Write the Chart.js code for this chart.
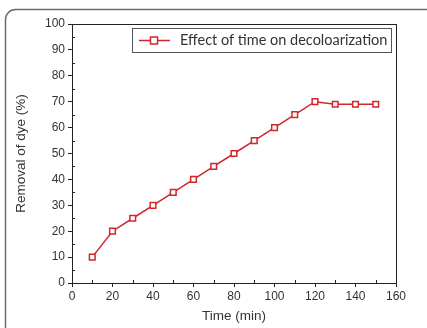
<!DOCTYPE html>
<html>
<head>
<meta charset="utf-8">
<script src="https://cdn.jsdelivr.net/npm/chart.js@4.4.1/dist/chart.umd.min.js"></script>
<style>
  html, body { margin: 0; padding: 0; background: #fff; }
  #wrap { width: 427px; height: 328px; }
</style>
</head>
<body>
<div id="wrap"><canvas id="mainChart" width="427" height="328"></canvas></div>
<script>
// time (min) and removal of dye (%)
const timeMin = [10, 20, 30, 40, 50, 60, 70, 80, 90, 100, 110, 120, 130, 140, 150];
const removal = [10, 20, 25, 30, 35, 40, 45, 50, 55, 60, 65, 70, 69, 69, 69];
const seriesLabel = "Effect of time on decoloarization";
const xTitle = "Time (min)";
const yTitle = "Removal of dye (%)";

const red = "#d0262c";
const tickFont = { family: "Liberation Sans, Arial, sans-serif", size: 12 };
const titleFont = { family: "Liberation Sans, Arial, sans-serif", size: 13.5 };

// rounded frame around the figure
const framePlugin = {
  id: "frame",
  beforeDraw(chart) {
    const ctx = chart.ctx;
    ctx.save();
    ctx.strokeStyle = "#6b6b6b";
    ctx.lineWidth = 1.5;
    ctx.beginPath();
    ctx.roundRect(5.5, 9.5, 460, 360, 10);
    ctx.stroke();
    ctx.restore();
  },
};

// box around plot area plus minor ticks
const boxPlugin = {
  id: "plotBox",
  afterDraw(chart) {
    const ctx = chart.ctx;
    const a = chart.chartArea;
    const xs = chart.scales.x;
    const ys = chart.scales.y;
    ctx.save();
    ctx.strokeStyle = "#222";
    ctx.lineWidth = 1;
    ctx.strokeRect(a.left + 0.5, a.top + 0.5, a.right - a.left, a.bottom - a.top);
    ctx.beginPath();
    for (let v = 10; v < 160; v += 20) {
      const px = Math.round(xs.getPixelForValue(v)) + 0.5;
      ctx.moveTo(px, a.bottom);
      ctx.lineTo(px, a.bottom - 3);
    }
    for (let v = 5; v < 100; v += 10) {
      const py = Math.round(ys.getPixelForValue(v)) + 0.5;
      ctx.moveTo(a.left, py);
      ctx.lineTo(a.left + 3, py);
    }
    ctx.stroke();
    ctx.restore();
  },
};

// legend drawn inside the plot with a border
const legendBoxPlugin = {
  id: "legendBox",
  afterDraw(chart) {
    const ctx = chart.ctx;
    const ds = chart.data.datasets[0];
    const x0 = 132, y0 = 28, w = 259, h = 24;
    ctx.save();
    ctx.fillStyle = "#fff";
    ctx.fillRect(x0, y0, w, h);
    ctx.strokeStyle = "#555";
    ctx.lineWidth = 1;
    ctx.strokeRect(x0 + 0.5, y0 + 0.5, w, h);
    const cy = y0 + h / 2 + 0.5;
    ctx.strokeStyle = ds.borderColor;
    ctx.lineWidth = 1.5;
    ctx.beginPath();
    ctx.moveTo(139, cy);
    ctx.lineTo(170, cy);
    ctx.stroke();
    ctx.fillStyle = "#fff";
    ctx.fillRect(150.5, cy - 3.5, 7, 7);
    ctx.strokeRect(150.5, cy - 3.5, 7, 7);
    ctx.fillStyle = "#333";
    ctx.font = "14.5px Lato, 'Open Sans', sans-serif";
    ctx.textBaseline = "middle";
    ctx.fillText(ds.label, 180, cy);
    ctx.restore();
  },
};

const ctx = document.getElementById("mainChart").getContext("2d");
new Chart(ctx, {
  type: "line",
  data: {
    datasets: [
      {
        label: seriesLabel,
        data: timeMin.map((t, i) => ({ x: t, y: removal[i] })),
        borderColor: red,
        backgroundColor: "#fff",
        borderWidth: 1.5,
        pointStyle: "rect",
        pointRadius: 4,
        pointBorderWidth: 1.5,
        pointBackgroundColor: "#fff",
        pointBorderColor: red,
        tension: 0,
        fill: false,
      },
    ],
  },
  options: {
    responsive: false,
    animation: false,
    layout: { padding: { top: 24, right: 31, left: 0, bottom: 0 } },
    plugins: {
      legend: { display: false },
      tooltip: { enabled: false },
    },
    scales: {
      x: {
        type: "linear",
        min: 0,
        max: 160,
        afterFit: (s) => { s.height = 45; },
        ticks: { stepSize: 20, color: "#333", font: tickFont, padding: 2 },
        grid: { drawOnChartArea: false, tickLength: 4, color: "#222" },
        border: { color: "#222" },
        title: {
          display: true,
          text: xTitle,
          color: "#333",
          font: titleFont,
          padding: { top: 2 },
        },
      },
      y: {
        min: 0,
        max: 100,
        afterFit: (s) => { s.width = 72; },
        ticks: { stepSize: 10, color: "#333", font: tickFont, padding: 3 },
        grid: { drawOnChartArea: false, tickLength: 4, color: "#222" },
        border: { color: "#222" },
        title: {
          display: true,
          text: yTitle,
          color: "#333",
          font: titleFont,
          padding: { top: 13, bottom: 0 },
        },
      },
    },
  },
  plugins: [framePlugin, boxPlugin, legendBoxPlugin],
});
</script>
</body>
</html>
